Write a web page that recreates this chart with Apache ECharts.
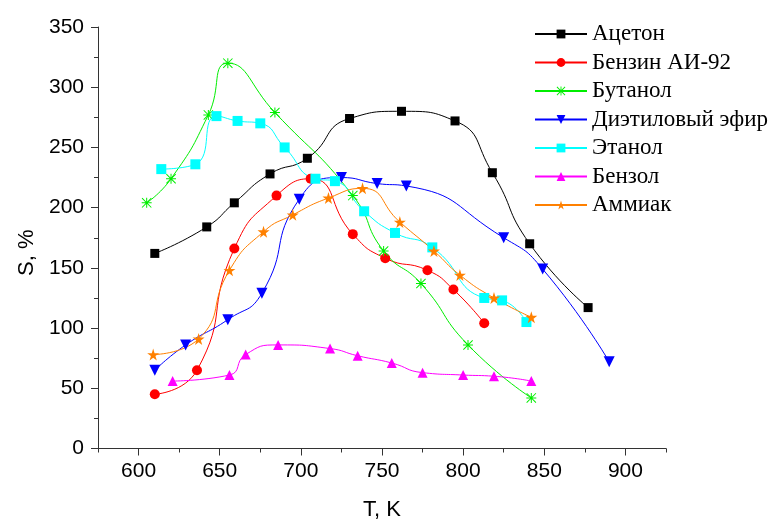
<!DOCTYPE html>
<html>
<head>
<meta charset="utf-8">
<script src="https://cdn.jsdelivr.net/npm/echarts@6/dist/echarts.min.js"></script>
<style>
  html, body { margin: 0; padding: 0; background: #fff; }
  #chart { width: 769px; height: 520px; }
</style>
</head>
<body>
<div id="chart"></div>
<script>
// temperatures (K) and selectivity (%)
var acetoneT = [610, 642, 659, 681, 704, 730, 762, 795, 818, 841, 877];
var acetoneS = [162, 184, 204, 228, 241, 274, 280, 272, 229, 170, 117];
var benzinT = [610, 636, 659, 685, 706, 732, 752, 778, 794, 813];
var benzinS = [45, 65, 166, 210, 224, 178, 158, 148, 132, 104];
var butanolT = [605, 620, 643, 655, 684, 732, 751, 774, 803, 842];
var butanolS = [204, 224, 277, 320, 279, 210, 164, 137, 86, 42];
var etherT = [610, 629, 655, 676, 699, 725, 747, 765, 825, 849, 890];
var etherS = [65, 86, 107, 129, 207, 225, 220, 218, 175, 149, 72];
var ethanolT = [614, 635, 648, 661, 675, 690, 709, 721, 739, 758, 781, 813, 824, 839];
var ethanolS = [232, 236, 276, 272, 270, 250, 224, 222, 197, 179, 167, 125, 123, 105];
var benzolT = [621, 656, 666, 686, 718, 735, 756, 775, 800, 819, 842];
var benzolS = [56, 61, 78, 86, 83, 77, 71, 63, 61, 60, 56];
var ammoniaT = [609, 637, 656, 677, 695, 717, 738, 761, 782, 798, 819, 842];
var ammoniaS = [78, 91, 148, 180, 194, 208, 216, 188, 164, 144, 125, 109];

var names = ['Ацетон', 'Бензин АИ-92', 'Бутанол', 'Диэтиловый эфир', 'Этанол', 'Бензол', 'Аммиак'];
var majorTicksX = [600, 650, 700, 750, 800, 850, 900];
var minorTicksX = [575, 625, 675, 725, 775, 825, 875, 925];

var asterisk = 'path://M4.5,0L5.5,0L5.5,10L4.5,10Z M0,4.5L10,4.5L10,5.5L0,5.5Z M0.7,0L10,9.3L9.3,10L0,0.7Z M9.3,0L10,0.7L0.7,10L0,9.3Z';
var star = 'path://M50,0L61,35L98,35L68,57L79,91L50,70L21,91L32,57L2,35L39,35Z';

function pairs(xs, ys) {
    var out = [];
    for (var i = 0; i < xs.length; i++) {
        out.push([xs[i], ys[i]]);
    }
    return out;
}

function makeSeries(name, xs, ys, color, symbol, size, rotate) {
    return {
        name: name,
        type: 'line',
        smooth: 0.55,
        data: pairs(xs, ys),
        symbol: symbol,
        symbolSize: size,
        symbolRotate: rotate || 0,
        lineStyle: { color: color, width: 1 },
        itemStyle: { color: color, borderWidth: 0 },
        emphasis: { disabled: true },
        animation: false
    };
}

var chart = echarts.init(document.getElementById('chart'));

chart.setOption({
    backgroundColor: '#fff',
    grid: { left: 98, right: 103, top: 27, bottom: 71.5, outerBoundsMode: 'none', containLabel: false },
    legend: {
        data: names,
        orient: 'vertical',
        left: 534,
        top: 22.5,
        padding: 0,
        itemWidth: 52,
        itemHeight: 11,
        itemGap: 5.5,
        selectedMode: false,
        textStyle: {
            fontFamily: 'Liberation Serif',
            fontSize: 23,
            color: '#000'
        }
    },
    xAxis: [{
        type: 'value',
        position: 'bottom',
        min: 575,
        max: 925,
        name: 'T, K',
        nameLocation: 'middle',
        nameGap: 50,
        nameTextStyle: { fontFamily: 'Liberation Sans', fontSize: 22, color: '#000' },
        axisLine: { onZero: false, lineStyle: { color: '#333', width: 1 } },
        axisTick: { customValues: majorTicksX, length: 7, lineStyle: { color: '#333' } },
        axisLabel: {
            customValues: majorTicksX,
            margin: 12,
            fontFamily: 'Liberation Sans',
            fontSize: 21,
            color: '#000'
        },
        splitLine: { show: false }
    }, {
        type: 'value',
        position: 'bottom',
        min: 575,
        max: 925,
        axisLine: { show: false },
        axisTick: { customValues: minorTicksX, length: 4, lineStyle: { color: '#333' } },
        axisLabel: { show: false },
        splitLine: { show: false }
    }],
    yAxis: {
        type: 'value',
        min: 0,
        max: 350,
        interval: 50,
        name: 'S, %',
        nameLocation: 'middle',
        nameGap: 60,
        nameTextStyle: { fontFamily: 'Liberation Sans', fontSize: 22, color: '#000', padding: [0, 30, 0, 0] },
        axisLine: { show: true, lineStyle: { color: '#333', width: 1 } },
        axisTick: { show: true, length: 7, lineStyle: { color: '#333' } },
        minorTick: { show: true, splitNumber: 2, length: 4, lineStyle: { color: '#333' } },
        axisLabel: {
            margin: 14,
            fontFamily: 'Liberation Sans',
            fontSize: 21,
            color: '#000'
        },
        splitLine: { show: false },
        minorSplitLine: { show: false }
    },
    series: [
        makeSeries(names[0], acetoneT, acetoneS, '#000000', 'rect', 9),
        makeSeries(names[1], benzinT, benzinS, '#ff0000', 'circle', 10),
        makeSeries(names[2], butanolT, butanolS, '#00ee00', asterisk, 10),
        makeSeries(names[3], etherT, etherS, '#0000ff', 'triangle', 11, 180),
        makeSeries(names[4], ethanolT, ethanolS, '#00ffff', 'rect', 10),
        makeSeries(names[5], benzolT, benzolS, '#ff00ff', 'triangle', 10),
        makeSeries(names[6], ammoniaT, ammoniaS, '#ff8000', star, 12)
    ]
});
</script>
</body>
</html>
